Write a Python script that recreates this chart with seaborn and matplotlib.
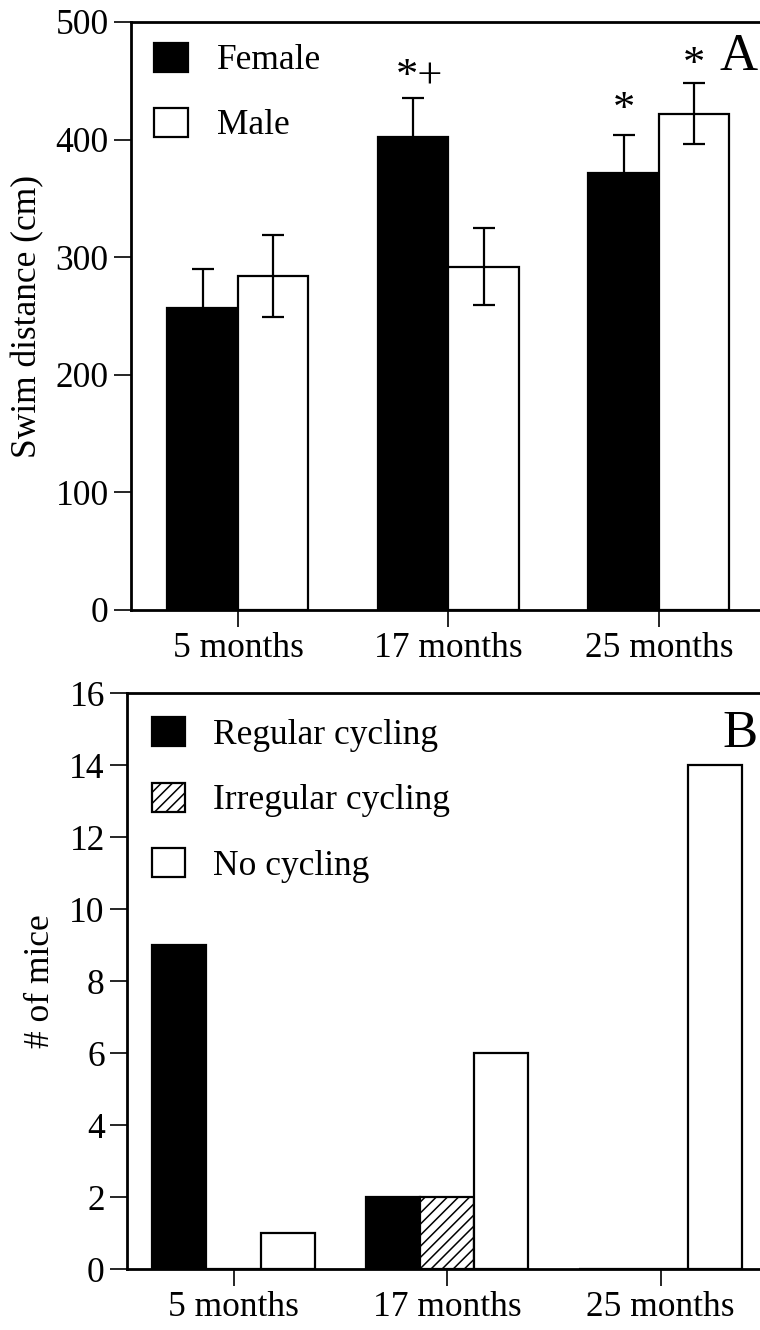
import numpy as np
import pandas as pd
import matplotlib
matplotlib.use("Agg")
import matplotlib.pyplot as plt
from matplotlib.patches import Patch
import seaborn as sns

# ---------------- data ----------------
ages = ["5 months", "17 months", "25 months"]
sexes = ["Female", "Male"]
female_dist = [257, 402, 372]
male_dist = [284, 292, 422]
female_err = [33, 33, 32]
male_err = [35, 33, 26]
sig_female = ["", "*+", "*"]
sig_male = ["", "", "*"]

cyc_groups = ["Regular cycling", "Irregular cycling", "No cycling"]
regular_n = [9, 2, 0]
irregular_n = [0, 2, 0]
nocycle_n = [1, 6, 14]

# ---------------- style ----------------
sns.set_theme(style="ticks")
plt.rcParams["font.family"] = ["Liberation Serif", "DejaVu Serif"]
plt.rcParams["text.color"] = "black"
plt.rcParams["axes.labelcolor"] = "black"
plt.rcParams["xtick.color"] = "black"
plt.rcParams["ytick.color"] = "black"
plt.rcParams["hatch.linewidth"] = 1.1
plt.rcParams["hatch.color"] = "black"
FS = 25.5

fig = plt.figure(figsize=(7.6, 13.3), dpi=100)
axA = fig.add_axes([131 / 760, (1330 - 610) / 1330, 629 / 760, 588 / 1330])
axB = fig.add_axes([127 / 760, (1330 - 1269) / 1330, 633 / 760, 576 / 1330])

# ---------------- panel A ----------------
dfA = pd.DataFrame({
    "age": ages * 2,
    "sex": [sexes[0]] * 3 + [sexes[1]] * 3,
    "dist": female_dist + male_dist,
})
sns.barplot(data=dfA, x="age", y="dist", hue="sex", order=ages, hue_order=sexes,
            palette={"Female": "black", "Male": "white"}, edgecolor="black",
            linewidth=1.6, width=0.67, errorbar=None, legend=False, ax=axA,
            saturation=1)

# gap (data units) between the error-bar top and the significance marker baseline
gaps = [[0, 9, 12], [0, 0, 6]]
for cont, vals, errs, sig, gp in zip(axA.containers, [female_dist, male_dist],
                                     [female_err, male_err], [sig_female, sig_male], gaps):
    xs = [p.get_x() + p.get_width() / 2 for p in cont.patches]
    axA.errorbar(xs, vals, yerr=errs, fmt="none", ecolor="black",
                 elinewidth=1.6, capsize=8, capthick=1.6, zorder=3)
    for x, v, e, s, g in zip(xs, vals, errs, sig, gp):
        if s:
            dx = 0.03 if len(s) > 1 else 0.0
            axA.text(x + dx, v + e + g, s, ha="center", va="baseline",
                     fontsize=32, color="black")

axA.text(2.38, 459, "A", ha="center", va="baseline", fontsize=38, color="black")
axA.set_xlim(-0.508, 2.48)
axA.set_ylim(0, 500)
axA.set_yticks([0, 100, 200, 300, 400, 500])
axA.set_ylabel("Swim distance (cm)", fontsize=FS, labelpad=8)
axA.set_xlabel("")

axA.legend(
    handles=[Patch(facecolor="black", edgecolor="black", linewidth=1.6, label="Female"),
             Patch(facecolor="white", edgecolor="black", linewidth=1.6, label="Male")],
    loc="upper left", bbox_to_anchor=(0.036, 0.965), frameon=False,
    fontsize=FS, handlelength=0.98, handleheight=0.88, handletextpad=0.8,
    labelspacing=0.86, borderpad=0, borderaxespad=0)

# ---------------- panel B ----------------
dfB = pd.DataFrame({
    "age": ages * 3,
    "status": [cyc_groups[0]] * 3 + [cyc_groups[1]] * 3 + [cyc_groups[2]] * 3,
    "n": regular_n + irregular_n + nocycle_n,
})
sns.barplot(data=dfB, x="age", y="n", hue="status", order=ages, hue_order=cyc_groups,
            palette={cyc_groups[0]: "black", cyc_groups[1]: "white", cyc_groups[2]: "white"},
            edgecolor="black", linewidth=1.6, width=0.76, errorbar=None,
            legend=False, ax=axB, saturation=1)
for p in axB.containers[1].patches:
    p.set_hatch("///")

axB.text(2.373, 14.5, "B", ha="center", va="baseline", fontsize=38, color="black")
axB.set_xlim(-0.499, 2.466)
axB.set_ylim(0, 16)
axB.set_yticks(np.arange(0, 17, 2))
axB.set_ylabel("# of mice", fontsize=FS, labelpad=9)
axB.set_xlabel("")

axB.legend(
    handles=[Patch(facecolor="black", edgecolor="black", linewidth=1.6, label=cyc_groups[0]),
             Patch(facecolor="white", edgecolor="black", linewidth=1.6, hatch="///", label=cyc_groups[1]),
             Patch(facecolor="white", edgecolor="black", linewidth=1.6, label=cyc_groups[2])],
    loc="upper left", bbox_to_anchor=(0.039, 0.958), frameon=False,
    fontsize=FS, handlelength=0.93, handleheight=0.88, handletextpad=0.8,
    labelspacing=0.87, borderpad=0, borderaxespad=0)

for ax in (axA, axB):
    ax.spines["right"].set_visible(False)
    for s in ("left", "top", "bottom"):
        ax.spines[s].set_linewidth(2.0)
        ax.spines[s].set_color("black")
    ax.tick_params(axis="both", direction="out", length=12, width=1.2,
                   color="black", labelsize=FS, labelcolor="black")
    ax.tick_params(axis="y", pad=4)
    ax.tick_params(axis="x", pad=4)
    ax.set_facecolor("white")

fig.patch.set_facecolor("white")
fig.savefig("out.png", dpi=100, facecolor="white")
